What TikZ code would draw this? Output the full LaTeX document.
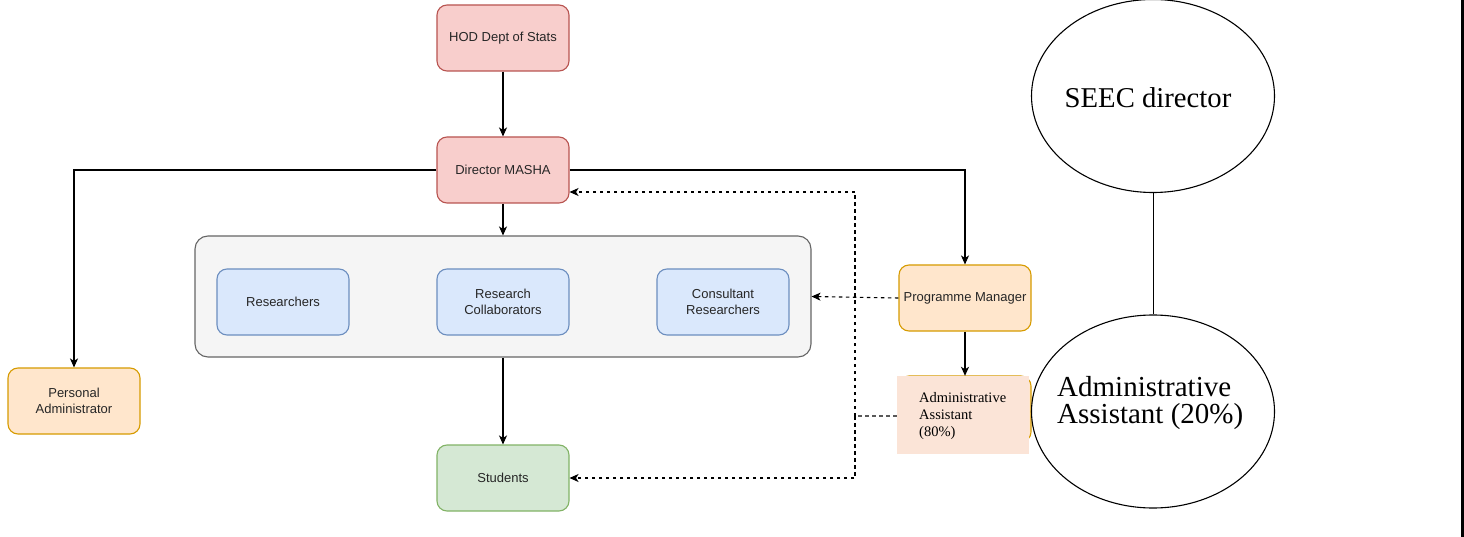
\documentclass[tikz,border=0pt]{standalone}
\usepackage{fontspec}
\setmainfont{Liberation Serif}
\newfontfamily\hv{Liberation Sans}
\usetikzlibrary{arrows.meta,shapes.geometric}
\definecolor{redfill}{HTML}{F8CECC}
\definecolor{redline}{HTML}{B85450}
\definecolor{bluefill}{HTML}{DAE8FC}
\definecolor{blueline}{HTML}{6C8EBF}
\definecolor{orfill}{HTML}{FFE6CC}
\definecolor{orline}{HTML}{D79B00}
\definecolor{grfill}{HTML}{D5E8D4}
\definecolor{grline}{HTML}{82B366}
\definecolor{grpfill}{HTML}{F5F5F5}
\definecolor{grpline}{HTML}{666666}
\definecolor{peach}{HTML}{FBE4D7}
\begin{document}
\begin{tikzpicture}[x=1pt,y=-1pt,
  box/.style={draw, rounded corners=10pt, minimum width=132pt, minimum height=66pt,
    line width=1.1pt, font=\hv\fontsize{13}{15.5}\selectfont, align=center,
    inner sep=0pt, text=black!85},
  redbox/.style={box, fill=redfill, draw=redline},
  bluebox/.style={box, fill=bluefill, draw=blueline},
  orbox/.style={box, fill=orfill, draw=orline},
  grbox/.style={box, fill=grfill, draw=grline},
  arr/.style={-{Stealth[length=9pt,width=8pt,inset=2.5pt]}, line width=1.1pt},
  dsh/.style={dash pattern=on 3.5pt off 3.5pt, line width=1.1pt},
  oval/.style={draw, ellipse, line width=1.1pt, minimum width=243pt, minimum height=193pt, inner sep=0pt}
]
\useasboundingbox (0,0) rectangle (1464,537);
\fill[white] (0,0) rectangle (1464,537);

% group container
\node[draw=grpline, fill=grpfill, rounded corners=13pt, line width=1.1pt,
  minimum width=616pt, minimum height=121pt, inner sep=0pt] (grp) at (503,296.5) {};

\node[redbox] (hod) at (503,38) {HOD Dept of Stats};
\node[redbox] (dir) at (503,170) {Director MASHA};
\node[bluebox] (res) at (283,302) {Researchers};
\node[bluebox] (col) at (503,302) {Research\\Collaborators};
\node[bluebox] (con) at (723,302) {Consultant\\Researchers};
\node[orbox] (pa) at (74,401) {Personal\\Administrator};
\node[grbox] (stu) at (503,478) {Students};
\node[orbox] (pm) at (965,298) {Programme Manager};
\node[orbox] (aabox) at (965,409) {};
\node[fill=peach, minimum width=132pt, minimum height=78pt, inner sep=0pt] (aa) at (963,415) {};
\node[anchor=west, align=left, inner sep=0pt, font=\fontsize{14.5}{17}\selectfont] (aatext) at (919,416)
  {Administrative\\Assistant\\(80\%)};

% ellipses
\node[oval] (seec) at (1153,96) {};
\node[font=\fontsize{28.7}{28}\selectfont, inner sep=0pt] (seect) at (1148,98) {SEEC director};
\node[oval] (aae) at (1153,411.5) {};
\node[anchor=west, align=left, inner sep=0pt, font=\fontsize{29}{27}\selectfont] (aaet) at (1057,403)
  {Administrative\\Assistant (20\%)};
\draw[line width=1pt] (seec.south) -- (aae.north);

% connectors
\draw[arr] (hod) -- (dir);
\draw[arr] (dir) -- (grp);
\draw[arr] (grp) -- (stu);
\draw[arr] (dir.west) -| (pa.north);
\draw[arr] (dir.east) -| (pm.north);
\draw[arr] (pm.south) -- (pm.south |- aa.north);

\coordinate (jt) at (855,192);
\coordinate (jm) at (855,416);
\coordinate (jb) at (855,478);
\draw[arr,dsh] (pm.west) -- (grp.east);
\draw[dsh, black!65] (aa.west |- jm) -- (jm);
\draw[arr,dsh] (jm) -- (jt) -- (jt -| dir.east);
\draw[arr,dsh] (jm) -- (jb) -- (stu.east);

% right page edge line
\draw[line width=3pt] (1462.5,0) -- (1462.5,537);
\end{tikzpicture}
\end{document}
